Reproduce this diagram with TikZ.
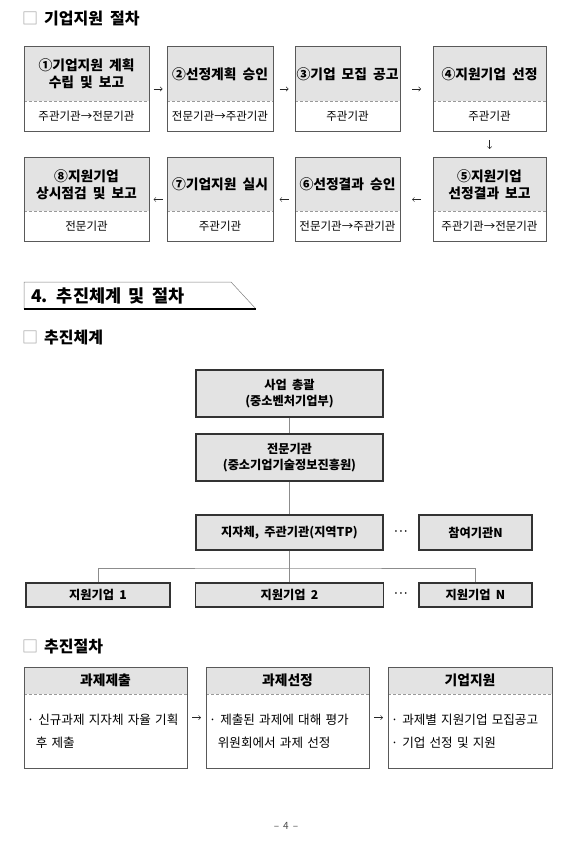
\documentclass[tikz,border=0pt]{standalone}
\usepackage{fontspec}
\setmainfont{Noto Sans CJK KR}[WordSpace=1.9]
\usetikzlibrary{arrows.meta,positioning,fit,calc}

\begin{document}
\begin{tikzpicture}[
  x=1pt, y=-1pt,
  font=\fontsize{11.5}{14}\selectfont,
  ttl/.style  = {anchor=west, inner sep=0pt, font=\fontsize{16}{18}\selectfont\bfseries},
  hd/.style   = {fill=black!11, align=center, inner sep=0pt,
                 font=\fontsize{13.8}{17}\selectfont\bfseries},
  bd/.style   = {align=center, inner sep=0pt},
  txt/.style  = {align=left, inner sep=0pt, font=\fontsize{12.6}{22.7}\selectfont},
  frame/.style = {draw=black!65, line width=0.6pt, inner sep=0pt},
  sep/.style  = {densely dashed, black!40, line width=0.4pt},
  arr/.style  = {-{Straight Barb[length=2.2pt,width=4.4pt]}, line width=0.45pt, black!85},
  org/.style  = {draw=black!80, line width=1.1pt, fill=black!11, align=center, inner sep=0pt,
                 font=\fontsize{12.2}{16}\selectfont\bfseries},
  link/.style = {black!45, line width=0.6pt},
]
\useasboundingbox (0,0) rectangle (577,842);

% --- 기업지원 절차
\node[ttl] at (22,19) (t1) {{\mdseries\color{black!40}□}\hspace{6pt}기업지원 절차};

\node[hd, minimum width=125pt, minimum height=54pt] at (86.5,74)  (h1) {①기업지원 계획\\수립 및 보고};
\node[hd, minimum width=106pt, minimum height=54pt] at (220,74)   (h2) {②선정계획 승인};
\node[hd, minimum width=105pt, minimum height=54pt] at (347.5,74) (h3) {③기업 모집 공고};
\node[hd, minimum width=113pt, minimum height=54pt] at (489.5,74) (h4) {④지원기업 선정};
\node[bd, minimum width=125pt, minimum height=30pt] at (86.5,116)  (b1) {주관기관→전문기관};
\node[bd, minimum width=106pt, minimum height=30pt] at (220,116)   (b2) {전문기관→주관기관};
\node[bd, minimum width=105pt, minimum height=30pt] at (347.5,116) (b3) {주관기관};
\node[bd, minimum width=113pt, minimum height=30pt] at (489.5,116) (b4) {주관기관};

\node[hd, minimum width=125pt, minimum height=53pt] at (86.5,184.5)  (h8) {⑧지원기업\\상시점검 및 보고};
\node[hd, minimum width=106pt, minimum height=53pt] at (220,184.5)   (h7) {⑦기업지원 실시};
\node[hd, minimum width=105pt, minimum height=53pt] at (347.5,184.5) (h6) {⑥선정결과 승인};
\node[hd, minimum width=113pt, minimum height=53pt] at (489.5,184.5) (h5) {⑤지원기업\\선정결과 보고};
\node[bd, minimum width=125pt, minimum height=30pt] at (86.5,226)  (b8) {전문기관};
\node[bd, minimum width=106pt, minimum height=30pt] at (220,226)   (b7) {주관기관};
\node[bd, minimum width=105pt, minimum height=30pt] at (347.5,226) (b6) {전문기관→주관기관};
\node[bd, minimum width=113pt, minimum height=30pt] at (489.5,226) (b5) {주관기관→전문기관};

\foreach \i in {1,...,8} {
  \draw[sep] (h\i.south west) -- (h\i.south east);
  \node[frame, fit=(h\i)(b\i)] (f\i) {};
}

\foreach \a/\b/\s in {f1/f2/4, f2/f3/6, f3/f4/11.5, f5/f6/11.5, f6/f7/6, f7/f8/4} {
  \draw[arr, shorten <=\s pt, shorten >=\s pt] (\a) -- (\b);
}
\draw[arr, shorten <=8.5pt, shorten >=8.5pt] (f4) -- (f5);

% --- 4. 추진체계 및 절차
\draw[black!50, line width=0.5pt] (24,309) -- (24,282) -- (231,282) -- (256,309);
\draw[line width=1.2pt] (24,309) -- (256,309);
\node[anchor=west, inner sep=0pt, font=\fontsize{17.5}{20}\selectfont\bfseries] at (31,296) (sec) {4. 추진체계 및 절차};

% --- 추진체계
\node[ttl] at (22,338) (t2) {{\mdseries\color{black!40}□}\hspace{6pt}추진체계};

\node[org, minimum width=187pt, minimum height=47pt] at (289.5,393.5) (head)   {사업 총괄\\(중소벤처기업부)};
\node[org, minimum width=187pt, minimum height=47pt] at (289.5,457.5) (agency) {전문기관\\(중소기업기술정보진흥원)};
\node[org, minimum width=187pt, minimum height=35pt] at (289.5,532.5) (local)  {지자체, 주관기관(지역TP)};
\node[org, minimum width=113pt, minimum height=35pt] at (475.5,532.5) (partN)  {참여기관N};
\node[font=\fontsize{8}{10}\selectfont\bfseries] at (401,532.5) (dotsA) {···};

\node[org, minimum width=144pt, minimum height=24pt] at (98,595)    (firm1) {지원기업 1};
\node[org, minimum width=188pt, minimum height=24pt] at (289.5,595) (firm2) {지원기업 2};
\node[org, minimum width=113pt, minimum height=24pt] at (475.5,595) (firmN) {지원기업 N};
\node[font=\fontsize{8}{10}\selectfont\bfseries] at (401,595) (dotsB) {···};

\coordinate (branch) at (289.5,568);
\draw[link] (head) -- (agency);
\draw[link] (agency) -- (local);
\draw[link] (local) -- (firm2);
\draw[link] (firm1.north) |- (branch) -| (firmN.north);

% --- 추진절차
\node[ttl] at (22,647) (t3) {{\mdseries\color{black!40}□}\hspace{6pt}추진절차};

\node[hd, minimum width=163pt, minimum height=27pt] at (105.5,680.5) (p1) {과제제출};
\node[hd, minimum width=163pt, minimum height=27pt] at (287.5,680.5) (p2) {과제선정};
\node[hd, minimum width=164pt, minimum height=27pt] at (470,680.5)   (p3) {기업지원};
\node[txt, text width=158pt, minimum height=74pt] at (106,731) (q1) {· 신규과제 지자체 자율 기획\\\hspace*{0.7em}후 제출};
\node[txt, text width=158pt, minimum height=74pt] at (288,731) (q2) {· 제출된 과제에 대해 평가\\\hspace*{0.7em}위원회에서 과제 선정};
\node[txt, text width=159pt, minimum height=74pt] at (470.5,731) (q3) {· 과제별 지원기업 모집공고\\· 기업 선정 및 지원};

\foreach \i in {1,2,3} {
  \draw[sep] (p\i.south west) -- (p\i.south east);
  \node[frame, fit=(p\i)(q\i)] (g\i) {};
}
\foreach \a/\b in {g1/g2, g2/g3} {
  \draw[arr, shorten <=4.5pt, shorten >=4.5pt] (\a) -- (\b);
}

\node[font=\fontsize{10}{12}\selectfont, text=black!70] at (286,826) (pgno) {–\hspace{4pt}4\hspace{4pt}–};
\end{tikzpicture}
\end{document}
